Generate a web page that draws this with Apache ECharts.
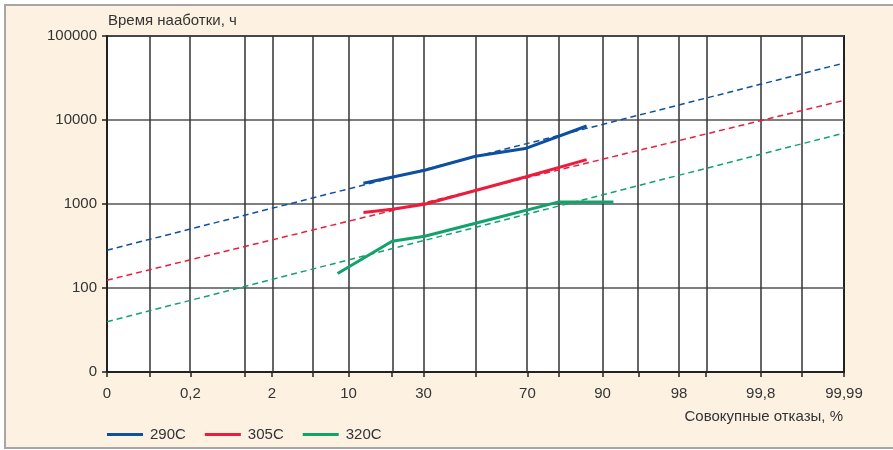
<!DOCTYPE html>
<html>
<head>
<meta charset="utf-8">
<script src="https://cdn.jsdelivr.net/npm/echarts@6/dist/echarts.min.js"></script>
<style>
html,body{margin:0;padding:0;background:#fff;}
#frame{position:absolute;left:4px;top:4px;width:900px;height:441px;border:2px solid #a6a6a6;background:#fdf1e2;}
#chart{position:absolute;left:0;top:0;width:893px;height:450px;}
</style>
</head>
<body>
<div id="frame"></div>
<div id="chart"></div>
<script>
// ---- data ----
const xLabelPercents = [0.01, 0.2, 2, 10, 30, 70, 90, 98, 99.8, 99.99];
const xLabelTexts = ['0', '0,2', '2', '10', '30', '70', '90', '98', '99,8', '99,99'];
const xGridPercents = [0.01, 0.05, 0.2, 1, 2, 5, 10, 20, 30, 50, 70, 80, 90, 95, 98, 99, 99.8, 99.95, 99.99];
const yTickValues = [10, 100, 1000, 10000, 100000];
const yTickTexts = ['0', '100', '1000', '10000', '100000'];

const seriesNames = ['290C', '305C', '320C'];

const p290 = [12.9, 30.4, 50, 69.2, 86.9];
const t290 = [1770, 2520, 3700, 4570, 8490];
const p305 = [12.9, 20, 30.4, 50, 69.2, 86.9];
const t305 = [790, 867, 995, 1450, 2100, 3380];
const p320 = [8.2, 20, 30.4, 50, 80, 91.8];
const t320 = [149, 361, 414, 590, 1059, 1059];

const fitPercents = [0.01, 99.99];
const fit290 = [282, 47600];
const fit305 = [124, 17150];
const fit320 = [39.7, 7000];

const xTitle = 'Совокупные отказы, %';
const yTitle = 'Время нааботки, ч';

// ---- normal probability transform ----
function probit(percent) {
  const p = percent / 100;
  const a = [-3.969683028665376e+01, 2.209460984245205e+02, -2.759285104469687e+02, 1.383577518672690e+02, -3.066479806614716e+01, 2.506628277459239e+00];
  const b = [-5.447609879822406e+01, 1.615858368580409e+02, -1.556989798598866e+02, 6.680131188771972e+01, -1.328068155288572e+01];
  const c = [-7.784894002430293e-03, -3.223964580411365e-01, -2.400758277161838e+00, -2.549732539343734e+00, 4.374664141464968e+00, 2.938163982698783e+00];
  const d = [7.784695709041462e-03, 3.224671290700398e-01, 2.445134137142996e+00, 3.754408661907416e+00];
  const pl = 0.02425, ph = 1 - pl;
  let q, r;
  if (p < pl) {
    q = Math.sqrt(-2 * Math.log(p));
    return (((((c[0]*q+c[1])*q+c[2])*q+c[3])*q+c[4])*q+c[5]) / ((((d[0]*q+d[1])*q+d[2])*q+d[3])*q+1);
  } else if (p <= ph) {
    q = p - 0.5; r = q*q;
    return (((((a[0]*r+a[1])*r+a[2])*r+a[3])*r+a[4])*r+a[5])*q / (((((b[0]*r+b[1])*r+b[2])*r+b[3])*r+b[4])*r+1);
  } else {
    q = Math.sqrt(-2 * Math.log(1 - p));
    return -(((((c[0]*q+c[1])*q+c[2])*q+c[3])*q+c[4])*q+c[5]) / ((((d[0]*q+d[1])*q+d[2])*q+d[3])*q+1);
  }
}

const zMin = probit(xLabelPercents[0]);
const zMax = probit(xLabelPercents[xLabelPercents.length - 1]);
const labelZ = xLabelPercents.map(probit);
const gridZ = xGridPercents.map(probit);
const pts = (ps, ts) => ps.map((p, i) => [probit(p), ts[i]]);

const FONT = "'Liberation Sans', Arial, sans-serif";
const FS = 15;
const colors = ['#0d4fa0', '#ec1c3c', '#10a36c'];

const chart = echarts.init(document.getElementById('chart'), null, {renderer: 'canvas'});
const solid = (i, ps, ts) => ({
  name: seriesNames[i], type: 'line', data: pts(ps, ts), showSymbol: false, symbol: 'none',
  lineStyle: {color: colors[i], width: 3}, itemStyle: {color: colors[i]}, z: 4, silent: true
});
const dashed = (i, vals) => ({
  name: seriesNames[i] + ' fit', type: 'line', data: pts(fitPercents, vals), showSymbol: false, symbol: 'none',
  lineStyle: {color: colors[i], width: 1.5, type: [6, 4]}, itemStyle: {color: colors[i]}, z: 3, silent: true
});

chart.setOption({
  animation: false,
  backgroundColor: 'transparent',
  grid: {left: 107, top: 36, width: 737, height: 336, show: true, backgroundColor: '#ffffff', borderColor: '#222', borderWidth: 2},
  legend: {
    data: seriesNames, left: 102, top: 422, icon: 'rect', itemWidth: 36, itemHeight: 3, itemGap: 19,
    textStyle: {fontFamily: FONT, fontSize: FS, color: '#333', padding: [0, 0, 0, 2]}
  },
  xAxis: {
    type: 'value', min: zMin, max: zMax,
    axisLine: {show: true, onZero: false, lineStyle: {color: '#222', width: 2}},
    axisTick: {show: true, customValues: gridZ, length: 5, lineStyle: {color: '#222', width: 1.5}},
    axisLabel: {
      customValues: labelZ, margin: 14, fontFamily: FONT, fontSize: FS, color: '#333',
      formatter: function (v) {
        let best = 0;
        labelZ.forEach((z, i) => { if (Math.abs(z - v) < Math.abs(labelZ[best] - v)) best = i; });
        return xLabelTexts[best];
      }
    },
    splitLine: {show: false}
  },
  yAxis: {
    type: 'log', logBase: 10, min: yTickValues[0], max: yTickValues[yTickValues.length - 1],
    axisLine: {show: true, onZero: false, lineStyle: {color: '#222', width: 2}},
    axisTick: {show: true, length: 5, lineStyle: {color: '#222', width: 1.5}},
    axisLabel: {
      margin: 10, fontFamily: FONT, fontSize: FS, color: '#333',
      formatter: function (v) { const i = yTickValues.indexOf(v); return i >= 0 ? yTickTexts[i] : ''; }
    },
    splitLine: {show: true, lineStyle: {color: '#555', width: 1.5}},
    minorTick: {show: false}
  },
  graphic: [
    {type: 'text', x: 108, y: 21, style: {text: yTitle, fontFamily: FONT, fontSize: FS, fill: '#333', textVerticalAlign: 'middle', textAlign: 'left'}},
    {type: 'text', x: 843, y: 417, style: {text: xTitle, fontFamily: FONT, fontSize: FS, fill: '#333', textVerticalAlign: 'middle', textAlign: 'right'}}
  ],
  series: [
    {
      name: 'grid', type: 'line', data: [], symbol: 'none', z: 1, silent: true,
      markLine: {
        silent: true, symbol: ['none', 'none'], animation: false, z: 1,
        label: {show: false},
        lineStyle: {type: 'solid', color: '#333', width: 1.5},
        emphasis: {disabled: true},
        data: gridZ.slice(1, -1).map(z => ({xAxis: z}))
      }
    },
    dashed(0, fit290), dashed(1, fit305), dashed(2, fit320),
    solid(0, p290, t290), solid(1, p305, t305), solid(2, p320, t320)
  ]
});
</script>
</body>
</html>
